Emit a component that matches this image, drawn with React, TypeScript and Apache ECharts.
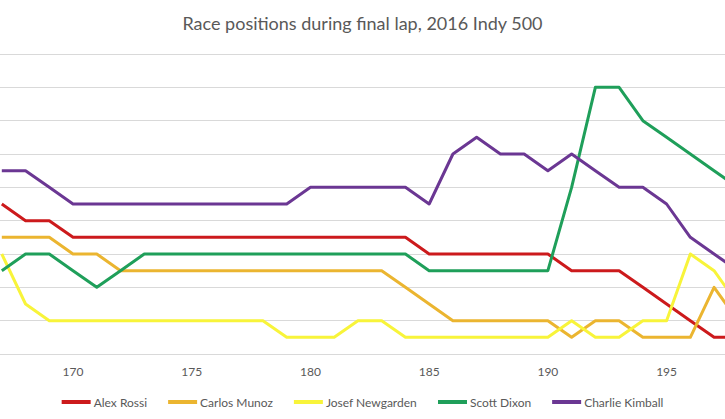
import React, { useEffect, useRef } from "react";
import * as echarts from "echarts";

const laps = [167, 168, 169, 170, 171, 172, 173, 174, 175, 176, 177, 178, 179, 180, 181, 182, 183, 184, 185, 186, 187, 188, 189, 190, 191, 192, 193, 194, 195, 196, 197, 198];

const alexRossi = [9, 8, 8, 7, 7, 7, 7, 7, 7, 7, 7, 7, 7, 7, 7, 7, 7, 7, 6, 6, 6, 6, 6, 6, 5, 5, 5, 4, 3, 2, 1, 1];
const carlosMunoz = [7, 7, 7, 6, 6, 5, 5, 5, 5, 5, 5, 5, 5, 5, 5, 5, 5, 4, 3, 2, 2, 2, 2, 2, 1, 2, 2, 1, 1, 1, 4, 2];
const josefNewgarden = [6, 3, 2, 2, 2, 2, 2, 2, 2, 2, 2, 2, 1, 1, 1, 2, 2, 1, 1, 1, 1, 1, 1, 1, 2, 1, 1, 2, 2, 6, 5, 3];
const scottDixon = [5, 6, 6, 5, 4, 5, 6, 6, 6, 6, 6, 6, 6, 6, 6, 6, 6, 6, 5, 5, 5, 5, 5, 5, 10, 16, 16, 14, 13, 12, 11, 10];
const charlieKimball = [11, 11, 10, 9, 9, 9, 9, 9, 9, 9, 9, 9, 9, 10, 10, 10, 10, 10, 9, 12, 13, 12, 12, 11, 12, 11, 10, 10, 9, 7, 6, 5];

const seriesNames = ["Alex Rossi", "Carlos Munoz", "Josef Newgarden", "Scott Dixon", "Charlie Kimball"];
const seriesValues = [alexRossi, carlosMunoz, josefNewgarden, scottDixon, charlieKimball];
const seriesColors = ["#CC1A1C", "#EBB530", "#F8F43A", "#1F9F5A", "#6B3793"];

const titleText = "Race positions during final lap, 2016 Indy 500";
const FONT = "Lato, 'Noto Sans', sans-serif";

export default function App() {
  const ref = useRef<HTMLDivElement>(null);
  useEffect(() => {
    if (!ref.current) return;
    const chart = echarts.init(ref.current, undefined, { renderer: "svg" });
    chart.setOption({
      animation: false,
      backgroundColor: "#ffffff",
      title: {
        text: titleText,
        left: "center",
        top: 9,
        textStyle: { fontFamily: FONT, fontSize: 18, fontWeight: "normal", color: "#595959" },
      },
      legend: {
        data: seriesNames,
        left: "center",
        top: 391,
        icon: "rect",
        itemWidth: 29,
        itemHeight: 4,
        itemGap: 21,
        textStyle: { fontFamily: FONT, fontSize: 12, color: "#595959", padding: [0, 0, 0, -2] },
      },
      grid: { left: 0, right: 0, top: 54, bottom: 65, containLabel: false },
      xAxis: {
        type: "value",
        min: 166.924,
        max: 197.46,
        splitNumber: 6,
        axisLine: { show: true, lineStyle: { color: "#D9D9D9", width: 1 } },
        axisTick: { show: false },
        splitLine: { show: false },
        axisLabel: {
          showMinLabel: false,
          showMaxLabel: false,
          margin: 11,
          fontFamily: FONT,
          fontSize: 12,
          color: "#595959",
          formatter: (v: number) => (Math.abs(v % 5) < 1e-6 ? String(v) : ""),
        },
      },
      yAxis: {
        type: "value",
        min: 0,
        max: 18,
        interval: 2,
        axisLine: { show: false },
        axisTick: { show: false },
        axisLabel: { show: false },
        splitLine: { show: true, lineStyle: { color: "#D9D9D9", width: 1 } },
      },
      series: seriesNames.map((name, i) => ({
        name,
        type: "line",
        data: laps.map((lap, j) => [lap, seriesValues[i][j]]),
        showSymbol: false,
        symbol: "none",
        clip: true,
        color: seriesColors[i],
        lineStyle: { color: seriesColors[i], width: 3, join: "round" },
      })),
    });
    return () => chart.dispose();
  }, []);
  return (
    <div
      ref={ref}
      style={{ position: "absolute", left: 0, top: 0, width: 725, height: 419 }}
    />
  );
}
